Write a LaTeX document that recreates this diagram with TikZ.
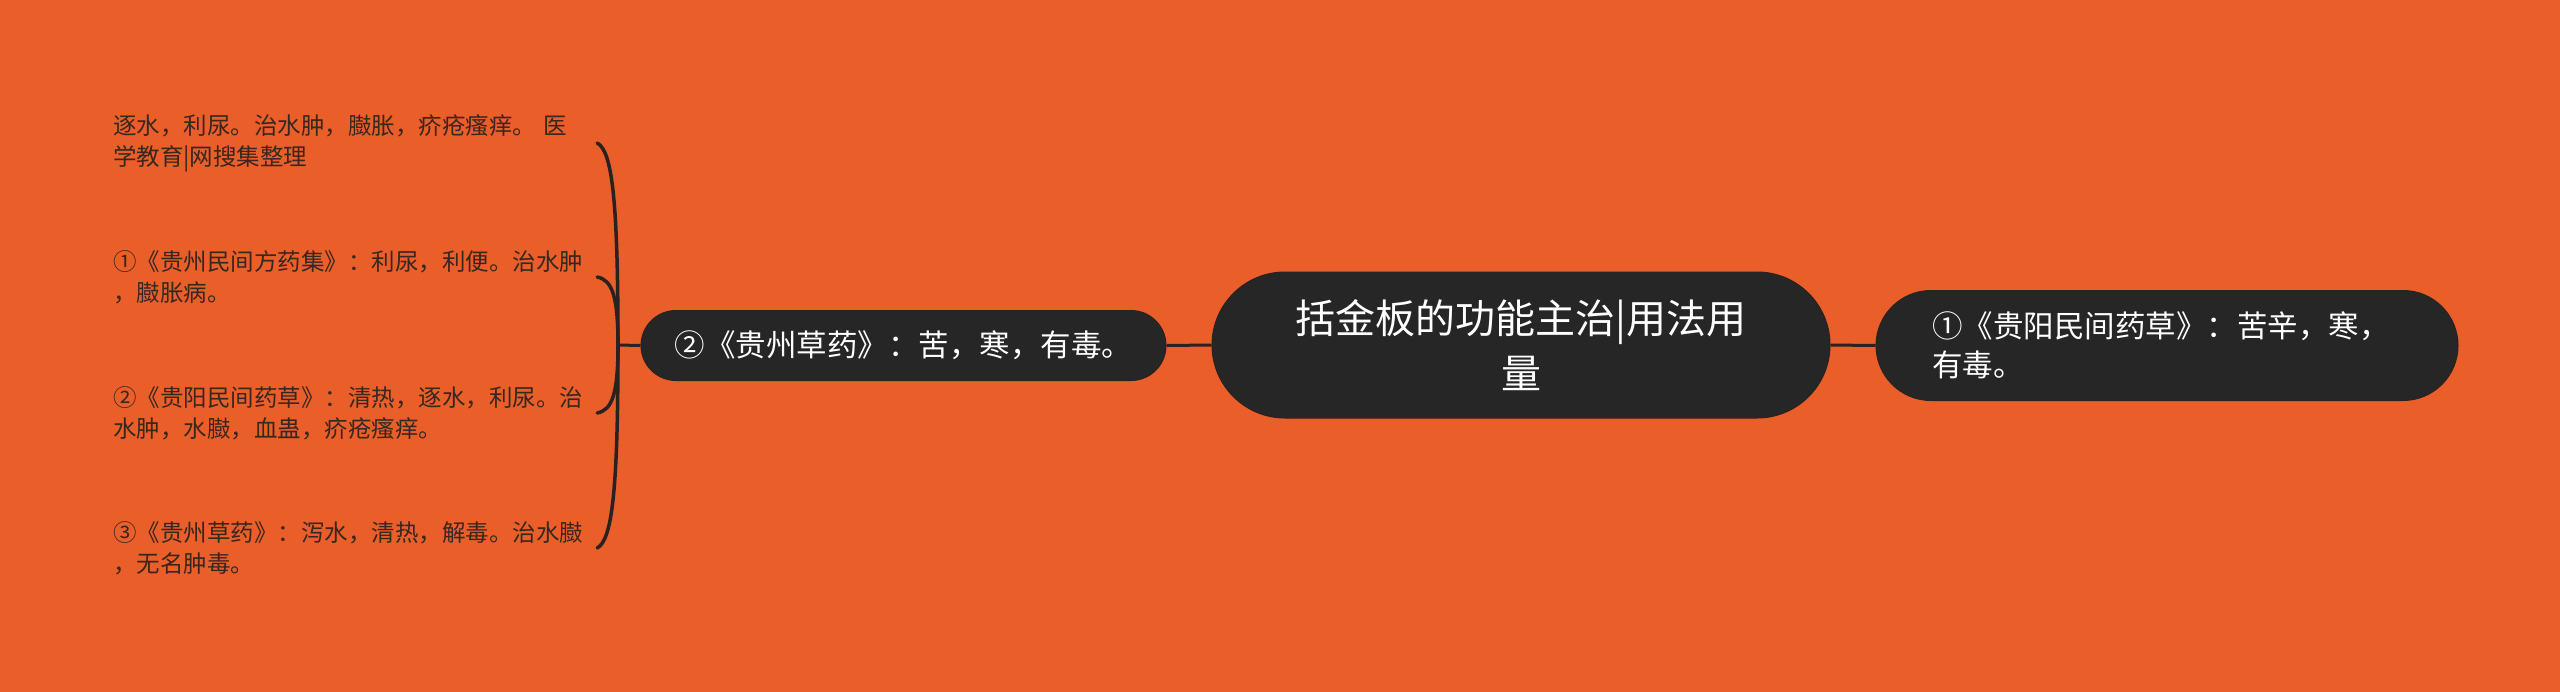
\documentclass[tikz,border=0pt]{standalone}
\usepackage{fontspec}
\newfontfamily\cjk{Noto Sans CJK SC}
\definecolor{bgorange}{HTML}{EA5E29}
\definecolor{nodedark}{HTML}{262626}
\definecolor{linedark}{HTML}{2A2220}
\definecolor{leaftext}{HTML}{36271F}
\tikzset{
  pill/.style={draw=linedark, line width=1pt, fill=nodedark, text=white, inner sep=0pt},
  centerbox/.style={pill, minimum width=618pt, minimum height=146pt, rounded corners=73pt, align=center,
    font=\cjk\fontsize{40}{55}\selectfont},
  rightbox/.style={pill, minimum height=110pt, rounded corners=55pt, text width=470pt, inner xsep=56pt, align=left,
    font=\cjk\fontsize{30.5}{39}\selectfont},
  midbox/.style={pill, minimum width=525pt, minimum height=70pt, rounded corners=35pt, align=center,
    font=\cjk\fontsize{30.5}{39}\selectfont},
  leafbox/.style={inner sep=0pt, text width=484pt, align=left, text=leaftext,
    font=\cjk\fontsize{23.5}{31}\selectfont},
  conn/.style={draw=linedark, line width=3pt},
  bracecurve/.style={draw=linedark, line width=3.5pt, line cap=round}
}
\begin{document}
\begin{tikzpicture}[x=1pt, y=-1pt]
\useasboundingbox (0,0) rectangle (2560,691);
\fill[bgorange] (-10,-10) rectangle (2570,701);

\node[centerbox] (c) at (1521,345) {括金板的功能主治|用法用\\量};
\node[rightbox] (r) at (2167,345.5) {①《贵阳民间药草》：苦辛，寒，\\有毒。};
\node[midbox] (m) at (903.5,345.5) {②《贵州草药》：苦，寒，有毒。};

\node[leafbox] (l1) at (355,143) {逐水，利尿。治水肿，臌胀，疥疮瘙痒。 医\\学教育|网搜集整理};
\node[leafbox] (l2) at (355,277) {①《贵州民间方药集》：利尿，利便。治水肿\\，臌胀病。};
\node[leafbox] (l3) at (355,413) {②《贵阳民间药草》：清热，逐水，利尿。治\\水肿，水臌，血蛊，疥疮瘙痒。};
\node[leafbox] (l4) at (355,548) {③《贵州草药》：泻水，清热，解毒。治水臌\\，无名肿毒。};

\coordinate (b) at (618,345);

\draw[conn] (c.east) -- (r.west);
\draw[conn] (c.west) -- (m.east);
\draw[conn] (m.west) -- (b);

\draw[bracecurve] (b) .. controls +(0,-145) and +(15,8) .. (l1.east);
\draw[bracecurve] (b) .. controls +(0,-49) and +(15,3) .. (l2.east);
\draw[bracecurve] (b) .. controls +(0,49) and +(15,-3) .. (l3.east);
\draw[bracecurve] (b) .. controls +(0,145) and +(15,-8) .. (l4.east);
\end{tikzpicture}
\end{document}
